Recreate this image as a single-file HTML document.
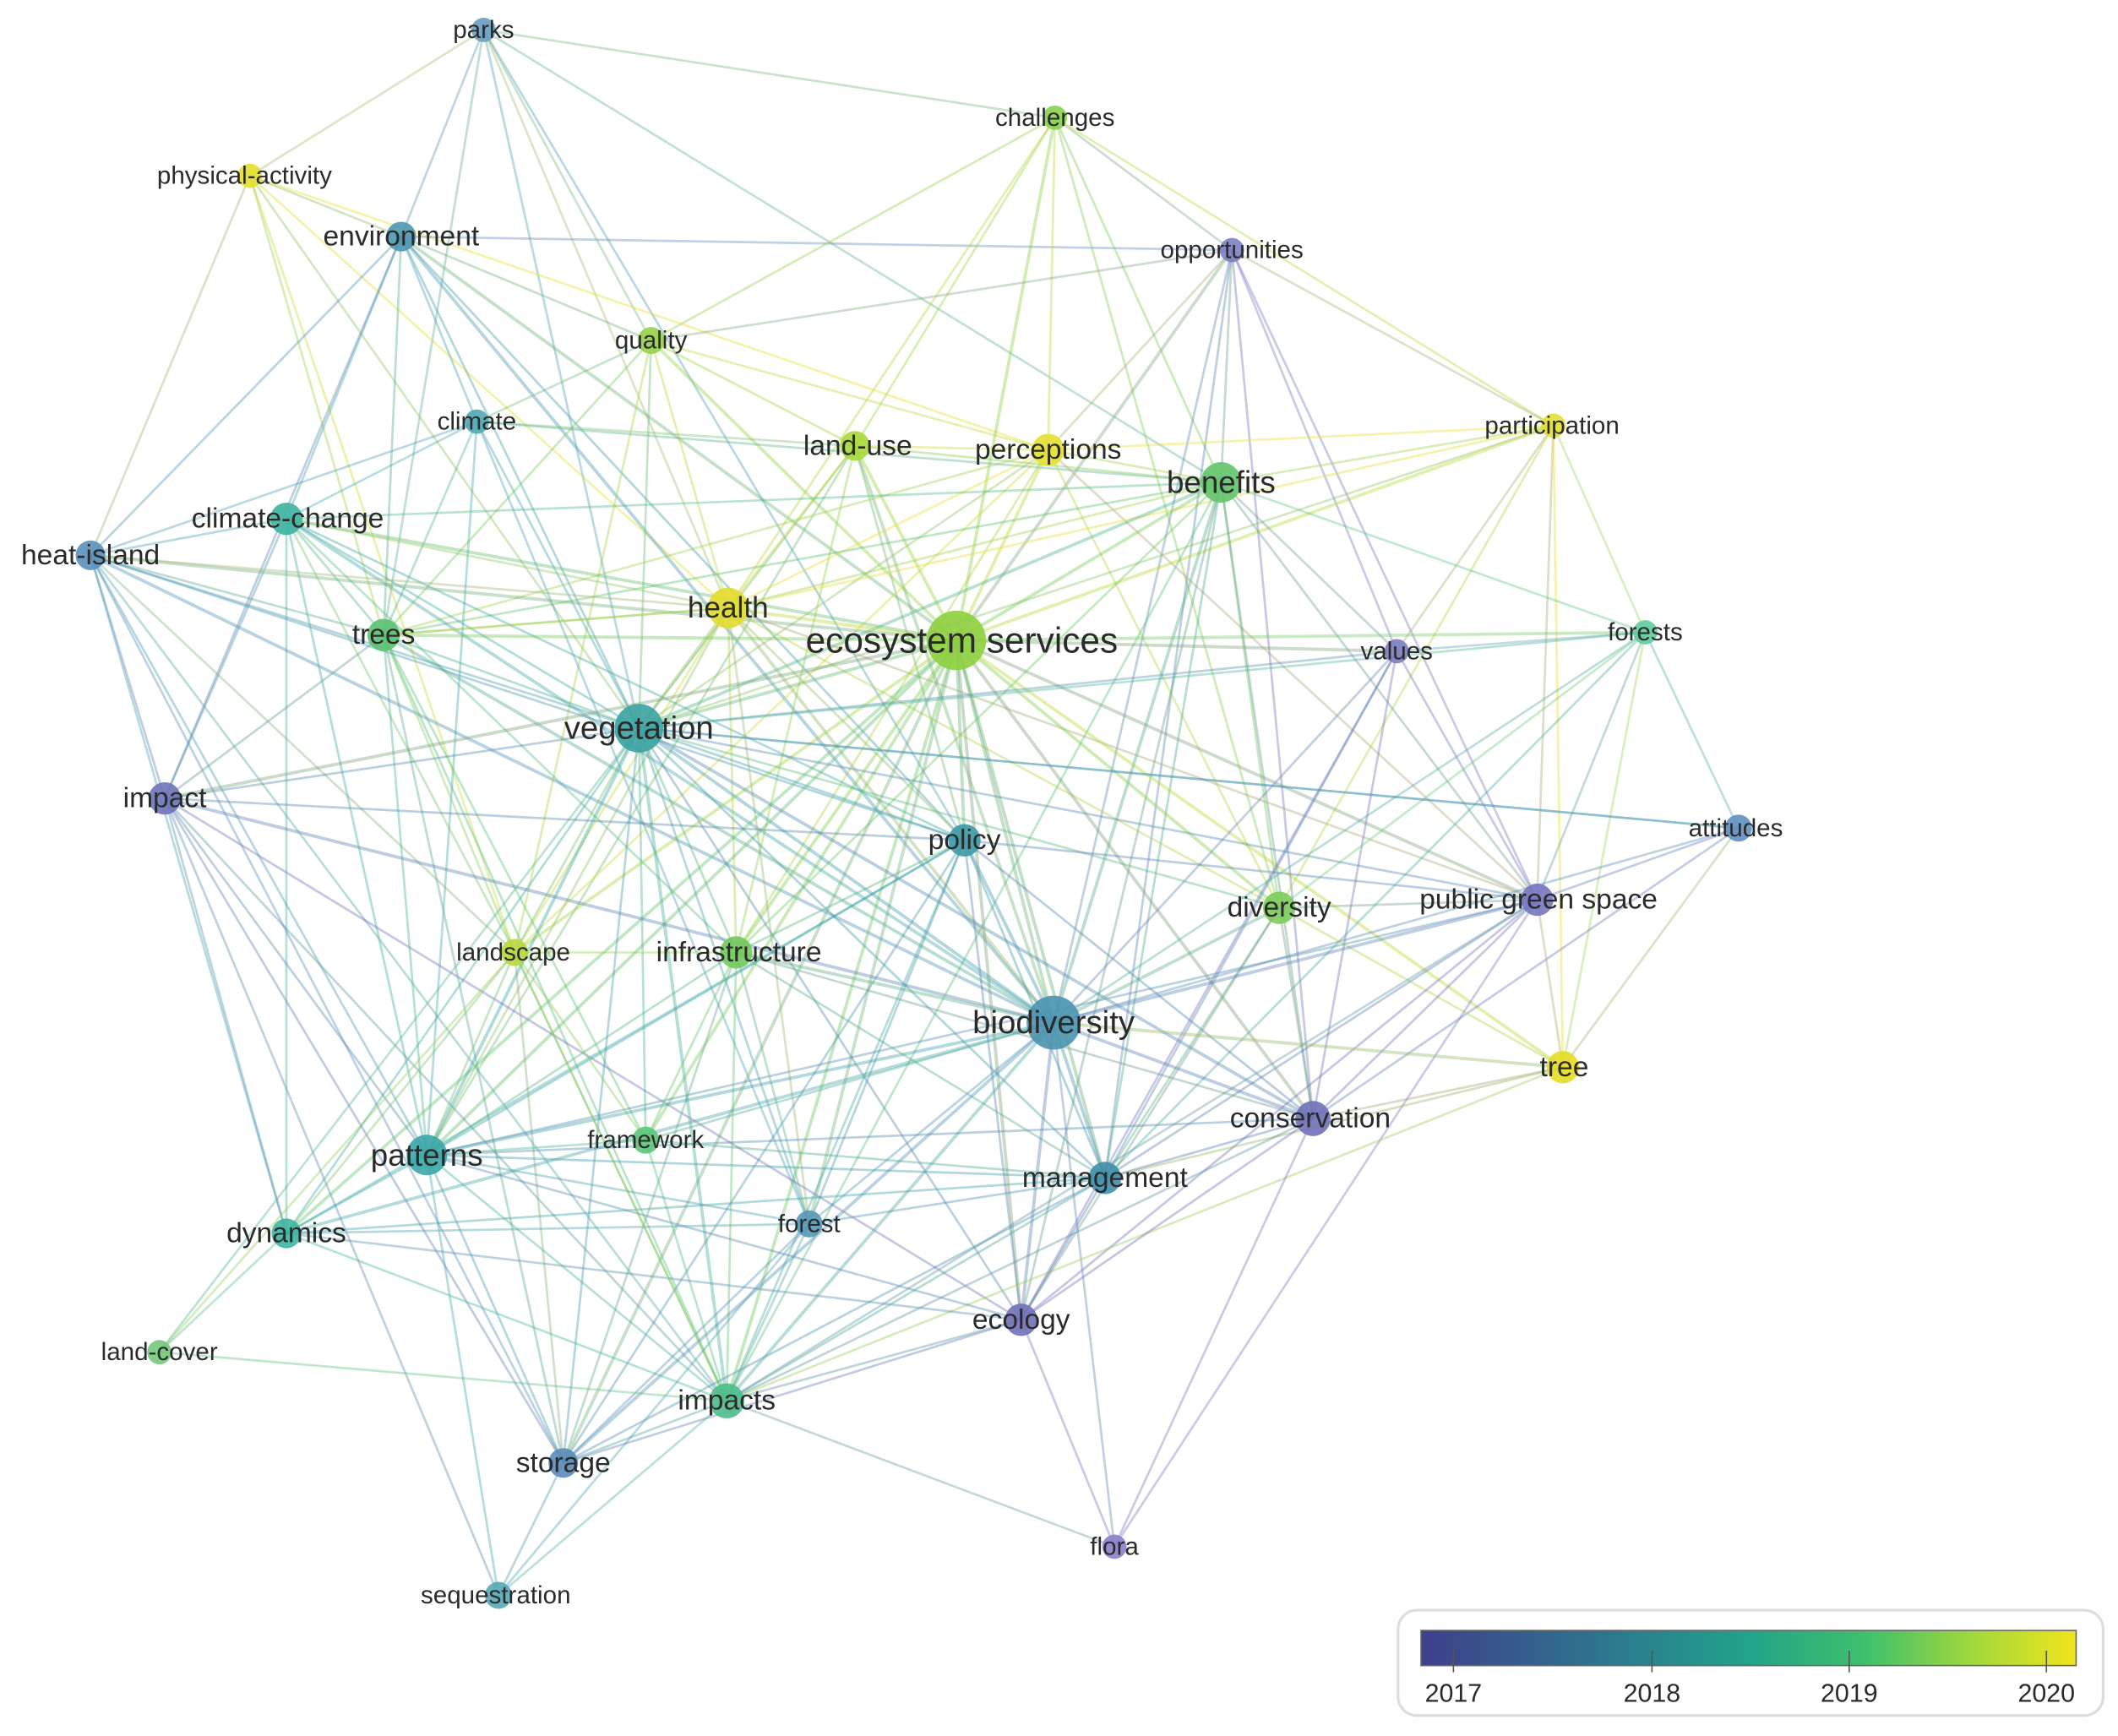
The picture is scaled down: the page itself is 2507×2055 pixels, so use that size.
<!DOCTYPE html>
<html><head><meta charset="utf-8"><style>
html,body{margin:0;padding:0;background:#fff;}
svg{display:block;}
text{font-family:"Liberation Sans","DejaVu Sans",sans-serif;fill:#2a2a2a;text-anchor:middle;dominant-baseline:central;}
</style></head><body>
<svg id="s" width="2507" height="2055" viewBox="0 0 1568 1285" xmlns="http://www.w3.org/2000/svg">
<defs><linearGradient id="g" x1="0" x2="1"><stop offset="0" stop-color="#3f3f8c"/><stop offset="0.3" stop-color="#2c7a8e"/><stop offset="0.5" stop-color="#21a38a"/><stop offset="0.68" stop-color="#3fc06c"/><stop offset="0.85" stop-color="#a6d93a"/><stop offset="1" stop-color="#f0e41c"/></linearGradient></defs>
<g id="edges" fill="none"></g>
<g id="nodes"></g>
<g font-size="18.5">
<text x="358" y="22">parks</text>
<text x="181" y="130">physical-activity</text>
<text x="297" y="175" font-size="21">environment</text>
<text x="781" y="87">challenges</text>
<text x="912" y="185">opportunities</text>
<text x="482" y="252">quality</text>
<text x="353" y="312">climate</text>
<text x="635" y="330" font-size="21">land-use</text>
<text x="776" y="333" font-size="21">perceptions</text>
<text x="1149" y="315">participation</text>
<text x="904" y="357" font-size="23">benefits</text>
<text x="213" y="384" font-size="21">climate-change</text>
<text x="67" y="411" font-size="21">heat-island</text>
<text x="539" y="450" font-size="22">health</text>
<text x="284" y="470" font-size="21">trees</text>
<text x="712" y="474" font-size="26.5">ecosystem services</text>
<text x="1034" y="482">values</text>
<text x="1218" y="468">forests</text>
<text x="473" y="539" font-size="24">vegetation</text>
<text x="122" y="591" font-size="21">impact</text>
<text x="714" y="622" font-size="21">policy</text>
<text x="1285" y="613">attitudes</text>
<text x="947" y="672" font-size="21">diversity</text>
<text x="1139" y="666" font-size="21">public green space</text>
<text x="380" y="705">landscape</text>
<text x="547" y="705" font-size="21">infrastructure</text>
<text x="780" y="757" font-size="24">biodiversity</text>
<text x="1158" y="790" font-size="21">tree</text>
<text x="970" y="828" font-size="21">conservation</text>
<text x="478" y="844">framework</text>
<text x="316" y="855" font-size="23">patterns</text>
<text x="818" y="872" font-size="21">management</text>
<text x="212" y="913" font-size="21">dynamics</text>
<text x="599" y="906">forest</text>
<text x="756" y="977" font-size="21">ecology</text>
<text x="118" y="1001">land-cover</text>
<text x="538" y="1037" font-size="21">impacts</text>
<text x="417" y="1083" font-size="21">storage</text>
<text x="825" y="1145">flora</text>
<text x="367" y="1181">sequestration</text>
</g>
<rect x="1035" y="1192" width="522" height="78" rx="14" fill="#fff" stroke="#ddd" stroke-width="2"/>
<rect x="1052" y="1207" width="485" height="26" fill="url(#g)" stroke="#666" stroke-width="1"/>
<g stroke="#555" stroke-width="1"><line x1="1076" y1="1222" x2="1076" y2="1238"/><line x1="1223" y1="1222" x2="1223" y2="1238"/><line x1="1369" y1="1222" x2="1369" y2="1238"/><line x1="1515" y1="1222" x2="1515" y2="1238"/></g>
<g font-size="19"><text x="1076" y="1254">2017</text><text x="1223" y="1254">2018</text><text x="1369" y="1254">2019</text><text x="1515" y="1254">2020</text></g>
</svg>
<script>
var N={pa:[358,22,9,'#6a9fc0'],ph:[185,130,9,'#e3e02c'],en:[297,175,11,'#4d97b0'],ch:[781,87,9,'#8ad34a'],op:[912,185,9,'#7a80c4'],qu:[482,252,10,'#96d24c'],cl:[353,312,9,'#4fa9b5'],lu:[633,330,11,'#a9d83a'],pe:[776,333,12,'#e6e030'],pt:[1150,315,9,'#e3e032'],be:[904,357,15,'#63c46a'],cc:[212,384,12,'#3fb3a0'],hi:[67,411,11,'#5b90bd'],he:[539,450,15,'#e3dc2c'],tr:[284,470,12,'#5cc171'],es:[708,474,22,'#8ecf3e'],va:[1034,482,9,'#7c7cc2'],fo:[1218,468,9,'#5ecb9a'],ve:[473,539,18,'#3aa3a2'],im:[122,591,12,'#6e74b8'],po:[714,622,12,'#3a9aa6'],at:[1287,613,10,'#5f90c2'],di:[947,672,12,'#7ccc5a'],pg:[1138,666,12,'#7676c0'],la:[381,705,10,'#b8d840'],in:[545,705,12,'#72c95a'],bi:[780,757,20,'#4a94b0'],te:[1157,790,12,'#e6dc22'],co:[972,828,13,'#7070b8'],fr:[478,844,10,'#5cc47a'],pt2:[316,855,15,'#3aa6a6'],ma:[818,872,12,'#3f8fa8'],dy:[212,913,11,'#3fb4a0'],fs:[599,906,10,'#5698b6'],ec:[756,977,12,'#7070b8'],lc:[118,1001,9,'#74c87a'],ip:[538,1037,13,'#4fbd8a'],st:[417,1083,11,'#5a8cba'],fl:[825,1145,9,'#8a80c8'],sq:[369,1181,10,'#54a8b6']};
var E="pa-en pa-ch pa-ph pa-tr pa-ve pa-be pa-he pa-po pa-qu ph-en ph-hi ph-pe ph-la ph-he ph-tr ph-ve en-hi en-op en-cc en-im en-ve en-po en-es en-tr en-cl en-bi en-qu ch-qu ch-lu ch-be ch-pe ch-op ch-he ch-di ch-pt ch-es op-be op-pe op-pg op-va op-ma op-co op-bi op-pt op-es op-qu qu-he qu-ve qu-es qu-lu qu-tr qu-la qu-cl qu-pe cl-cc cl-lu cl-be cl-ve cl-tr cl-fs cl-pt2 cl-hi lu-be lu-ve lu-in lu-es lu-he lu-bi lu-po lu-pt2 lu-pe pe-pt pe-he pe-es pe-be pe-la pe-ve pe-di pe-tr pe-pg pe-in pt-be pt-pg pt-te pt-fo pt-va pt-ve pt-es pt-di pt-he be-es be-va be-bi be-di be-co be-ma be-pg be-fo be-ve be-in be-he be-ip be-ec be-cc be-tr cc-hi cc-tr cc-ve cc-es cc-im cc-pt2 cc-la cc-dy cc-bi cc-he cc-po cc-in hi-ve hi-im hi-tr hi-pt2 hi-es hi-he hi-po hi-dy hi-st hi-la hi-ip hi-bi he-es he-ve he-in he-la he-po he-bi he-tr he-fs he-pt2 he-pg he-di tr-ve tr-es tr-im tr-la tr-pt2 tr-st tr-bi tr-fr tr-ip tr-he es-ve es-bi es-po es-di es-pg es-va es-fo es-ma es-in es-la es-co es-pt2 es-ip es-st es-ec es-fs es-te es-im es-dy es-fr va-pg va-co va-bi va-fo va-ec va-ma va-ve fo-at fo-pg fo-ve fo-bi fo-te fo-ma fo-di ve-im ve-po ve-bi ve-in ve-la ve-pt2 ve-ma ve-dy ve-ip ve-st ve-fs ve-fr ve-co ve-at ve-pg ve-ec ve-di im-bi im-pt2 im-dy im-ip im-st im-sq im-po im-ec po-bi po-pg po-ma po-in po-ip po-st po-co po-pt2 po-dy po-ec po-fs at-pg at-bi at-co at-te at-ve di-bi di-pg di-co di-ma di-te di-ec pg-bi pg-co pg-te pg-ma pg-ec pg-fl pg-ip pg-pt2 la-in la-fr la-pt2 la-dy la-lc la-ip la-st in-bi in-pt2 in-ma in-ip in-st in-fs in-fr in-co bi-pt2 bi-ma bi-co bi-ec bi-ip bi-st bi-fs bi-fl bi-dy bi-te bi-fr te-co te-ip te-ma co-ma co-ec co-fl co-pt2 co-ip fr-pt2 fr-ip fr-ma pt2-dy pt2-ma pt2-st pt2-ip pt2-sq pt2-fs pt2-ec ma-ip ma-ec ma-st ma-fs dy-lc dy-ip dy-ma dy-ec dy-fs ec-ip ec-fl ec-st fs-ip fs-st fs-sq ip-st ip-sq ip-fl st-sq lc-ip lc-ve ip-la";
function mix(a,b){var r='#';for(var i=1;i<7;i+=2){var v=Math.round((parseInt(a.substr(i,2),16)+parseInt(b.substr(i,2),16))/2);r+=(v<16?'0':'')+v.toString(16);}return r;}
var ns='http://www.w3.org/2000/svg',ge=document.getElementById('edges'),gn=document.getElementById('nodes');
E.split(' ').forEach(function(p){var q=p.split('-'),a=N[q[0]],b=N[q[1]];if(!a||!b)return;var l=document.createElementNS(ns,'line');l.setAttribute('x1',a[0]);l.setAttribute('y1',a[1]);l.setAttribute('x2',b[0]);l.setAttribute('y2',b[1]);l.setAttribute('stroke',mix(a[3],b[3]));l.setAttribute('stroke-opacity','0.4');l.setAttribute('stroke-width',(a[2]+b[2]>30)?2.4:1.7);ge.appendChild(l);});
for(var k in N){var n=N[k],c=document.createElementNS(ns,'circle');c.setAttribute('cx',n[0]);c.setAttribute('cy',n[1]);c.setAttribute('r',n[2]);c.setAttribute('fill',n[3]);c.setAttribute('fill-opacity','0.9');gn.appendChild(c);}
</script>
</body></html>
